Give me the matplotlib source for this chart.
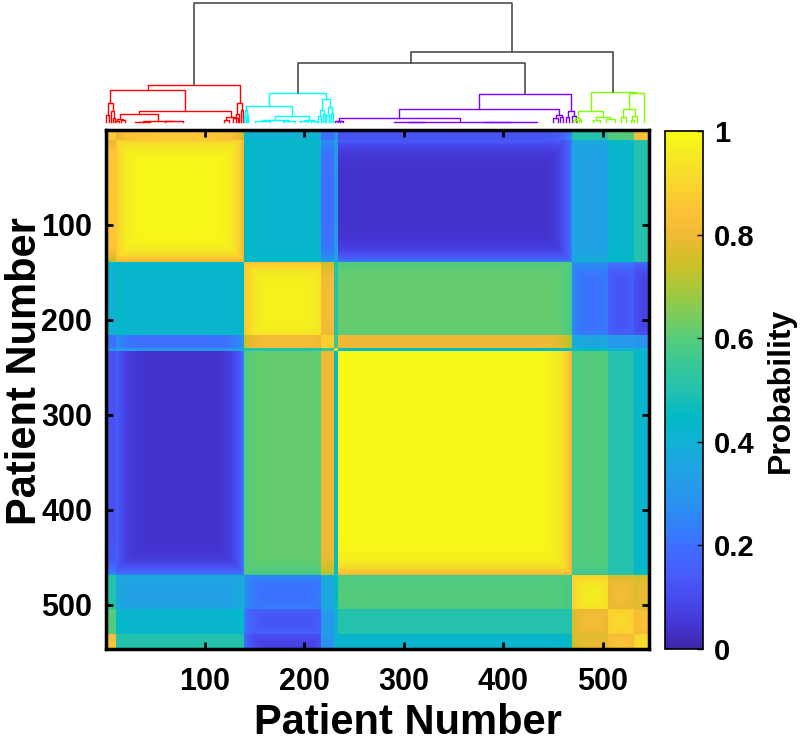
import numpy as np
import matplotlib
matplotlib.use('Agg')
import matplotlib.pyplot as plt
from matplotlib.colors import LinearSegmentedColormap

# patient groups in the order they are plotted
group_names = ['A0', 'A', 'B', 'Bx', 'L', 'C', 'D1', 'D2', 'D3']
group_sizes = [10, 129, 77, 13, 4, 235, 36, 26, 16]

# consensus probability between groups (symmetric)
prob = np.array([
    # A0    A     B     Bx    L     C     D1    D2    D3
    [0.86, 0.86, 0.40, 0.20, 0.30, 0.12, 0.50, 0.60, 0.85],  # A0
    [0.86, 0.99, 0.42, 0.20, 0.30, 0.04, 0.33, 0.42, 0.50],  # A
    [0.40, 0.42, 0.98, 0.82, 0.50, 0.62, 0.20, 0.12, 0.07],  # B
    [0.20, 0.20, 0.82, 0.88, 0.55, 0.80, 0.35, 0.30, 0.28],  # Bx
    [0.30, 0.30, 0.50, 0.55, 0.90, 0.45, 0.45, 0.40, 0.40],  # L
    [0.12, 0.04, 0.62, 0.80, 0.45, 0.99, 0.60, 0.50, 0.42],  # C
    [0.50, 0.33, 0.20, 0.35, 0.45, 0.60, 0.97, 0.82, 0.80],  # D1
    [0.60, 0.42, 0.12, 0.30, 0.40, 0.50, 0.82, 0.92, 0.85],  # D2
    [0.85, 0.50, 0.07, 0.28, 0.40, 0.42, 0.80, 0.85, 0.93],  # D3
])

# less stable patients at the start / end of each group
start_fringe = [0.0, 0.25, 0.28, 0.0, 0.0, 0.0, 0.20, 0.10, 0.10]
end_fringe = [0.0, 0.40, 0.10, 0.0, 0.0, 0.40, 0.10, 0.10, 0.0]
fringe_width = 8

# dendrogram: [height, left, right], leaves are patient positions
red_tree = [0.311,
            [0.269,
             [0.157, [0.06, 1, 4], [0.09, 6, [0.03, 8, 10]]],
             [0.095,
              [0.065, [0.025, [0.012, 10, 14], [0.015, 16, 20]],
               [0.008, [0.004, 30, 45], [0.005, 60, 78]]],
              [0.045, [0.02, 119, 124], [0.03, 128, 133]]]],
            [0.16, [0.07, 131, 134], [0.1, 136, [0.04, 138, 139]]]]
cyan_tree = [0.246,
             [0.137,
              [0.10, [0.04, 139, 141], [0.06, 142, 143]],
              [0.053, [0.02, [0.008, 150, 165], [0.01, 178, 190]],
               [0.015, [0.006, 196, 204], [0.01, 207, 213]]]],
             [0.19,
              [0.10, [0.05, 214, 217], [0.07, 219, 221]],
              [0.13, [0.06, 222, 225], [0.08, 227, 229]]]]
purple_tree = [0.233,
               [0.112,
                [0.036, [0.012, [0.006, 231, 234], [0.006, 236, 239]],
                 [0.004, [0.002, 290, 320], [0.003, 380, 434]]],
                [0.06, [0.03, 450, 455], [0.04, 457, 460]]],
               [0.09, [0.04, 463, 466], [0.05, 469, 473]]]
green_tree = [0.25,
              [0.095, [0.03, [0.015, 470, 474], [0.02, 476, 478]],
               [0.04, [0.02, 490, 497], [0.025, 503, 512]]],
              [0.245, [0.106, [0.04, 518, 523], [0.05, [0.02, 528, 531], 534]], 541]]
cyan_purple_height = 0.50
right_height = 0.588
root_height = 1.0

ticks = [100, 200, 300, 400, 500]
cbar_ticks = [0, 0.2, 0.4, 0.6, 0.8, 1]
cbar_labels = ['0', '0.2', '0.4', '0.6', '0.8', '1']

# MATLAB parula
parula_pts = [
    (0.2422, 0.1504, 0.6603), (0.2706, 0.2147, 0.8364), (0.2813, 0.3006, 0.9414),
    (0.2760, 0.3667, 0.9829), (0.2440, 0.4358, 0.9988), (0.1786, 0.5289, 0.9682),
    (0.1540, 0.5902, 0.9218), (0.1248, 0.6459, 0.8883), (0.0689, 0.6948, 0.8394),
    (0.0067, 0.7312, 0.7660), (0.1408, 0.7584, 0.6842), (0.2161, 0.7843, 0.5923),
    (0.3406, 0.8008, 0.4789), (0.5044, 0.7993, 0.3480), (0.6720, 0.7793, 0.2227),
    (0.8203, 0.7498, 0.1535), (0.9393, 0.7288, 0.2100), (0.9970, 0.7659, 0.2199),
    (0.9786, 0.8386, 0.1766), (0.9597, 0.9135, 0.1423), (0.9769, 0.9839, 0.0805)]
parula = LinearSegmentedColormap.from_list('parula', parula_pts, N=256)

plt.rcParams['font.family'] = ['Liberation Sans', 'DejaVu Sans']
plt.rcParams['font.weight'] = 'bold'

# build consensus matrix
sizes = np.array(group_sizes)
n = sizes.sum()
g = np.repeat(np.arange(len(sizes)), sizes)
starts = np.concatenate([[0], np.cumsum(sizes)[:-1]])
ends = starts + sizes - 1
idx = np.arange(n)
u = np.maximum(np.array(start_fringe)[g] * np.exp(-(idx - starts[g]) / fringe_width),
               np.array(end_fringe)[g] * np.exp(-(ends[g] - idx) / fringe_width))
M = prob[np.ix_(g, g)]
U = np.maximum(u[:, None], u[None, :])
M = M + U * (0.5 - M)

fig = plt.figure(figsize=(8, 7.5), dpi=100)

ax = fig.add_axes([0.1325, 0.1347, 0.679, 0.692])
im = ax.imshow(M, cmap=parula, vmin=0, vmax=1, aspect='auto',
               extent=(0.5, n + 0.5, n + 0.5, 0.5), interpolation='nearest')
ax.set_xticks(ticks)
ax.set_yticks(ticks)
ax.tick_params(direction='in', length=5, width=2, top=True, right=True,
               labelsize=22)
ax.tick_params(axis='x', pad=13)
ax.tick_params(axis='y', pad=10)
for s in ax.spines.values():
    s.set_linewidth(2.5)
ax.set_xlabel('Patient Number', fontsize=30, fontweight='bold')
ax.set_ylabel('Patient Number', fontsize=30, fontweight='bold')
ax.xaxis.set_label_coords(0.555, -0.105)
ax.yaxis.set_label_coords(-0.113, 0.535)

cax = fig.add_axes([0.831, 0.1347, 0.0475, 0.6907])
cb = fig.colorbar(im, cax=cax, ticks=cbar_ticks)
cb.ax.set_yticklabels(cbar_labels)
cb.ax.tick_params(direction='in', length=4, width=1, labelsize=21, pad=8)
cb.outline.set_linewidth(1.2)
cb.set_label('Probability', fontsize=23, fontweight='bold', labelpad=8)

# dendrogram
dax = fig.add_axes([0.1325, 0.8373, 0.679, 0.1587])
dax.set_xlim(0.5, n + 0.5)
dax.set_ylim(0, 1)
dax.axis('off')


def draw(node, color):
    if not isinstance(node, list):
        return node, 0.0
    h, left, right = node
    xl, hl = draw(left, color)
    xr, hr = draw(right, color)
    dax.plot([xl, xl, xr, xr], [hl, h, h, hr], color=color, lw=1.0, clip_on=False)
    return (xl + xr) / 2, h


link_col = (0.3, 0.3, 0.3)


def link(x1, h1, x2, h2, h):
    dax.plot([x1, x1, x2, x2], [h1, h, h, h2], color=link_col, lw=1.2, clip_on=False)
    return (x1 + x2) / 2


xr_, hr_ = draw(red_tree, (1, 0, 0))
xc_, hc_ = draw(cyan_tree, (0, 1, 1))
xp_, hp_ = draw(purple_tree, (0.5, 0, 1))
xg_, hg_ = draw(green_tree, (0.5, 1, 0))

# upper links in dark grey
x_cp = link(xc_, hc_, xp_, hp_, cyan_purple_height)
x_right = link(x_cp, cyan_purple_height, xg_, hg_, right_height)
link(xr_, hr_, x_right, right_height, root_height)

fig.savefig('out.png', dpi=100)
